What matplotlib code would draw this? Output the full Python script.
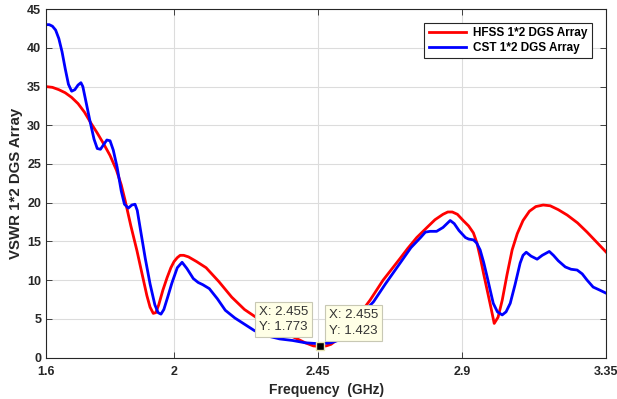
import matplotlib
matplotlib.use("Agg")
import matplotlib.pyplot as plt

plt.rcParams['font.family'] = ['Liberation Sans', 'DejaVu Sans']

# HFSS 1*2 DGS Array (red)
hfss_f = [1.60, 1.62, 1.64, 1.66, 1.68, 1.70, 1.72, 1.74, 1.76, 1.78, 1.80, 1.82,
          1.835, 1.847, 1.865, 1.884, 1.90, 1.915, 1.925, 1.935, 1.943, 1.952, 1.965,
          1.978, 1.99, 2.00, 2.01, 2.019, 2.03, 2.045, 2.07, 2.10, 2.14, 2.18, 2.22,
          2.27, 2.30, 2.33, 2.37, 2.41, 2.435, 2.455, 2.475, 2.49, 2.519, 2.54, 2.56,
          2.585, 2.612, 2.653, 2.706, 2.73, 2.758, 2.79, 2.815, 2.84, 2.855, 2.869,
          2.885, 2.903, 2.92, 2.935, 2.946, 2.956, 2.967, 2.978, 2.99, 3.0, 3.012,
          3.025, 3.04, 3.056, 3.072, 3.09, 3.11, 3.13, 3.153, 3.175, 3.2, 3.228,
          3.26, 3.29, 3.32, 3.35]
hfss_v = [35.0, 34.9, 34.6, 34.2, 33.6, 32.8, 31.7, 30.3, 29.0, 27.6, 26.1, 24.2,
          22.3, 20.3, 17.0, 13.8, 10.8, 8.0, 6.5, 5.7, 5.8, 6.8, 8.7,
          10.3, 11.6, 12.4, 12.9, 13.2, 13.2, 13.0, 12.4, 11.6, 9.8, 7.8, 6.2,
          4.8, 4.1, 3.5, 2.7, 1.9, 1.5, 1.423, 1.5, 1.7, 2.6, 3.4, 4.4,
          5.9, 7.4, 10.0, 12.8, 14.1, 15.5, 16.8, 17.8, 18.5, 18.8, 18.8,
          18.5, 17.7, 17.0, 16.1, 14.8, 13.0, 10.8, 8.7, 6.4, 4.4, 5.2,
          7.4, 10.7, 13.9, 16.0, 17.7, 18.9, 19.5, 19.7, 19.6, 19.1, 18.4,
          17.4, 16.2, 14.9, 13.6]

# CST 1*2 DGS Array (blue)
cst_f = [1.60, 1.61, 1.62, 1.63, 1.64, 1.65, 1.66, 1.67, 1.68, 1.69, 1.70, 1.709,
         1.715, 1.725, 1.737, 1.75, 1.76, 1.77, 1.78, 1.79, 1.80, 1.81, 1.822,
         1.835, 1.845, 1.857, 1.868, 1.878, 1.885, 1.895, 1.91, 1.925, 1.94, 1.95,
         1.959, 1.968, 1.98, 1.993, 2.01, 2.025, 2.04, 2.06, 2.075, 2.09, 2.11,
         2.135, 2.16, 2.19, 2.22, 2.25, 2.27, 2.30, 2.33, 2.37, 2.41, 2.455, 2.49,
         2.519, 2.54, 2.56, 2.58, 2.60, 2.623, 2.66, 2.706, 2.74, 2.77, 2.785,
         2.80, 2.82, 2.84, 2.8625, 2.875, 2.89, 2.91, 2.92, 2.935, 2.945, 2.956,
         2.967, 2.978, 2.988, 2.997, 3.01, 3.025, 3.037, 3.05, 3.065, 3.081, 3.09,
         3.1, 3.115, 3.134, 3.15, 3.172, 3.185, 3.2, 3.222, 3.24, 3.259, 3.275,
         3.29, 3.309, 3.33, 3.35]
cst_v = [43.0, 43.0, 42.8, 42.3, 41.2, 39.5, 37.3, 35.3, 34.4, 34.6, 35.2, 35.5,
         35.0, 33.0, 30.6, 28.2, 27.0, 26.9, 27.5, 28.1, 28.0, 26.8, 24.6,
         21.5, 19.8, 19.3, 19.7, 19.8, 19.0, 16.5, 12.8, 9.5, 6.8, 5.8,
         5.6, 6.2, 7.8, 9.6, 11.6, 12.3, 11.5, 10.2, 9.7, 9.4, 8.9,
         7.6, 6.1, 5.1, 4.3, 3.5, 3.1, 2.7, 2.4, 2.2, 1.9, 1.773, 1.9,
         2.3, 3.0, 3.9, 5.0, 6.2, 7.2, 9.5, 12.2, 14.2, 15.5, 16.2,
         16.3, 16.3, 16.8, 17.7, 17.3, 16.4, 15.5, 15.3, 15.2, 14.8, 13.9,
         12.3, 10.4, 8.6, 7.0, 5.9, 5.5, 5.9, 7.0, 9.4, 12.2, 13.2,
         13.6, 13.1, 12.7, 13.2, 13.7, 13.2, 12.5, 11.7, 11.4, 11.3, 10.8,
         10.0, 9.1, 8.7, 8.3]

x_ticks = [1.6, 2, 2.45, 2.9, 3.35]
x_tick_labels = ['1.6', '2', '2.45', '2.9', '3.35']
y_ticks = list(range(0, 46, 5))

dark = '#262626'

fig = plt.figure(figsize=(6.17, 3.99), dpi=100)
ax = fig.add_axes([0.0746, 0.104, 0.908, 0.873])

ax.plot(hfss_f, hfss_v, color='#ff0000', lw=2, label='HFSS 1*2 DGS Array')
ax.plot(cst_f, cst_v, color='#0000ff', lw=2, label='CST 1*2 DGS Array')

ax.set_xlim(1.6, 3.35)
ax.set_ylim(0, 45)
ax.set_xticks(x_ticks)
ax.set_xticklabels(x_tick_labels)
ax.set_yticks(y_ticks)
ax.grid(True, color='#dcdcdc', lw=0.8)
ax.set_axisbelow(True)
ax.tick_params(direction='in', top=True, right=True, length=4, width=0.6,
               colors=dark, labelsize=9)
ax.tick_params(axis='x', pad=6)
for lbl in ax.get_xticklabels() + ax.get_yticklabels():
    lbl.set_fontweight('bold')
for sp in ax.spines.values():
    sp.set_color(dark)
    sp.set_linewidth(0.8)

ax.set_xlabel('Frequency  (GHz)', fontsize=10, fontweight='bold', color=dark, labelpad=4)
ax.set_ylabel('VSWR 1*2 DGS Array', fontsize=10.8, fontweight='bold', color=dark, labelpad=3)

leg = ax.legend(loc='upper right', bbox_to_anchor=(0.985, 0.978), fancybox=False,
                prop={'weight': 'bold', 'size': 8.5}, handlelength=3.2,
                borderpad=0.35, labelspacing=0.25, handletextpad=0.6, framealpha=1)
leg.get_frame().set_edgecolor(dark)
leg.get_frame().set_linewidth(0.8)

# data tips
ax.plot([2.455], [1.55], marker='s', ms=6, color='black', mec='#e8e4b0', mew=1, zorder=5)
tip_box = dict(boxstyle='square,pad=0.3', fc='#ffffe6', ec='#c8c8b4', lw=0.8)
ax.text(2.265, 3.2, 'X: 2.455\nY: 1.773', fontsize=9.5, color='#333333',
        ha='left', va='bottom', bbox=tip_box, linespacing=1.35, zorder=6)
ax.text(2.483, 2.7, 'X: 2.455\nY: 1.423', fontsize=9.5, color='#333333',
        ha='left', va='bottom', bbox=tip_box, linespacing=1.35, zorder=6)

fig.savefig('out.png', dpi=100)
